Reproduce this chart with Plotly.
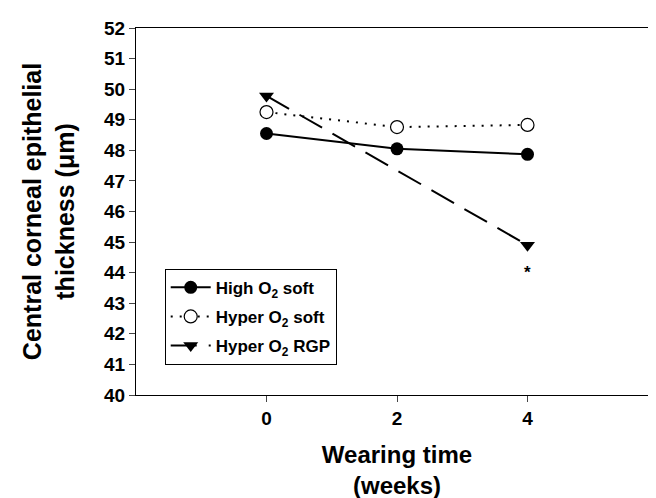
import plotly.graph_objects as go

weeks = [0, 2, 4]
high_o2_soft = [48.55, 48.05, 47.87]
hyper_o2_soft = [49.25, 48.76, 48.83]
rgp_weeks = [0, 4]
hyper_o2_rgp = [49.78, 44.9]
y_ticks = list(range(40, 53))
x_ticks = [0, 2, 4]

FONT = "Liberation Sans, Arial, sans-serif"

fig = go.Figure()
fig.add_trace(go.Scatter(
    x=weeks, y=high_o2_soft, mode="lines+markers",
    name="High O<sub>2</sub> soft", legendgroup="a",
    line=dict(color="black", width=2),
    marker=dict(symbol="circle", size=13, color="black")))
fig.add_trace(go.Scatter(
    x=weeks, y=hyper_o2_soft, mode="lines+markers",
    name="Hyper O<sub>2</sub> soft", legendgroup="b",
    line=dict(color="black", width=2, dash="2px,7px"),
    marker=dict(symbol="circle", size=13, color="white",
                line=dict(color="black", width=1.2))))
fig.add_trace(go.Scatter(
    x=rgp_weeks, y=hyper_o2_rgp, mode="lines+markers",
    name="Hyper O<sub>2</sub> RGP", legendgroup="c",
    line=dict(color="black", width=2, dash="26px,12px"),
    marker=dict(symbol="triangle-down", size=13, color="black")))

fig.add_annotation(x=4, y=44.0, text="<b>*</b>", showarrow=False,
                   font=dict(size=17, color="black", family=FONT))

fig.update_layout(
    width=656, height=498,
    margin=dict(l=128, r=6, t=20, b=111),
    paper_bgcolor="white", plot_bgcolor="white",
    font=dict(family=FONT, color="black"),
    showlegend=True,
    legend=dict(x=0.055, y=0.344, xanchor="left", yanchor="top",
                bordercolor="black", borderwidth=1, bgcolor="white",
                font=dict(size=17, family=FONT, color="black", weight="bold"),
                tracegroupgap=4, itemwidth=40),
    xaxis=dict(range=[-2, 6], tickvals=x_ticks, ticks="outside", ticklen=6,
               showline=True, linecolor="black", linewidth=1, mirror=True,
               showgrid=False, zeroline=False,
               tickfont=dict(size=19, family=FONT, color="black", weight="bold"),
               title=dict(text="Wearing time<br>(weeks)",
                          font=dict(size=24, family=FONT, color="black", weight="bold"),
                          standoff=18)),
    yaxis=dict(range=[40, 52], tickvals=y_ticks, ticks="outside", ticklen=6,
               showline=True, linecolor="black", linewidth=1, mirror=True,
               showgrid=False, zeroline=False,
               tickfont=dict(size=19, family=FONT, color="black", weight="bold"),
               title=dict(text="Central corneal epithelial<br>thickness (μm)",
                          font=dict(size=25, family=FONT, color="black", weight="bold"),
                          standoff=22)),
)
fig.write_html("out.html")
